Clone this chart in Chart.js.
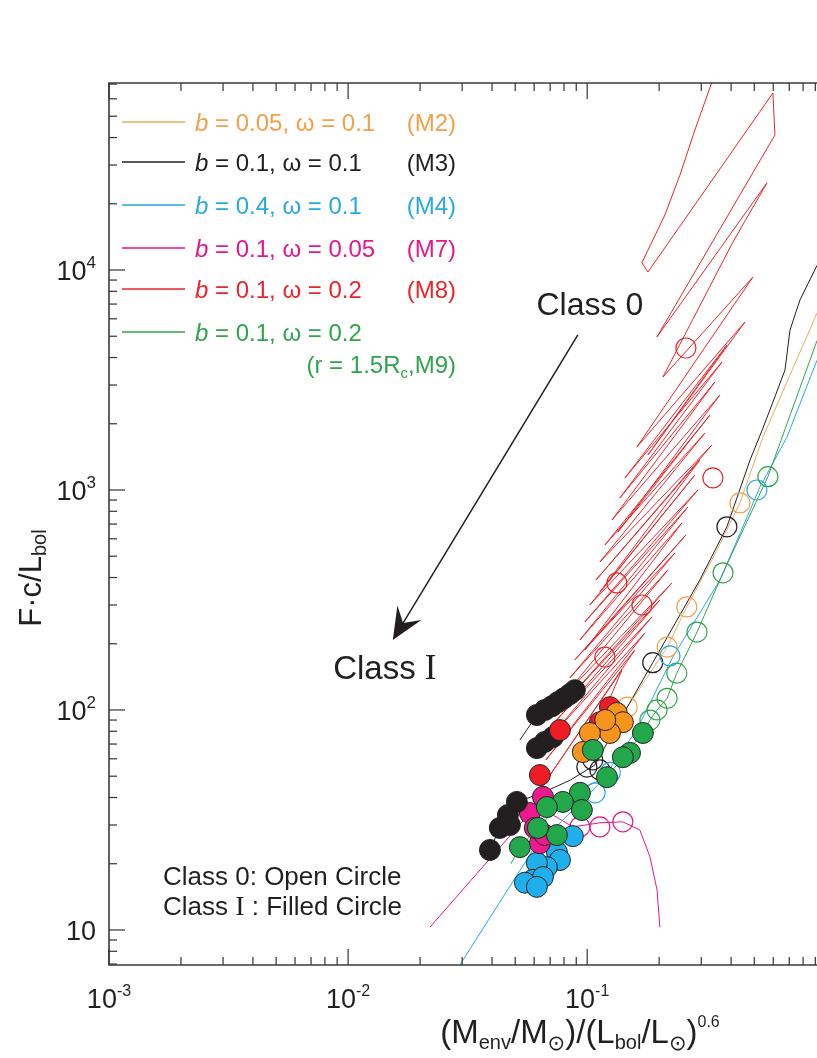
<!DOCTYPE html>
<html>
<head>
<meta charset="utf-8">
<script src="https://cdn.jsdelivr.net/npm/chart.js@4.4.1/dist/chart.umd.min.js"></script>
<style>
  html, body { margin: 0; padding: 0; background: #fff; overflow: hidden; }
  canvas { display: block; }
</style>
</head>
<body>
<canvas id="chart" width="817" height="1058"></canvas>
<script>
// axis ranges and ticks
const xRange = [0.001, 0.9145];
const yRange = [6.93, 70800];
const xMajorTicks = [0.001, 0.01, 0.1];
const xMinorTicks = [0.002, 0.003, 0.004, 0.005, 0.006, 0.007, 0.008, 0.009,
                     0.02, 0.03, 0.04, 0.05, 0.06, 0.07, 0.08, 0.09,
                     0.2, 0.3, 0.4, 0.5, 0.6, 0.7, 0.8, 0.9];
const yMajorTicks = [10, 100, 1000, 10000];
const yMinorTicks = [7, 8, 9, 20, 30, 40, 50, 60, 70, 80, 90,
                     200, 300, 400, 500, 600, 700, 800, 900,
                     2000, 3000, 4000, 5000, 6000, 7000, 8000, 9000,
                     20000, 30000, 40000, 50000, 60000, 70000];
const xTickExponents = ['-3', '-2', '-1'];
const yTickExponents = ['', '2', '3', '4'];

// M2 (b=0.05, w=0.1)
const m2Line = [[0.915,6380],[0.5435,1740],[0.4355,873],[0.349,533],[0.261,294],[0.216,193],[0.147,103],[0.133,96.9],[0.119,90],[0.1026,78.6],[0.0959,64.4]];
const m2Open = [[0.4355,873],[0.261,294],[0.216,193],[0.147,103]];
const m2Filled = [[0.133,96.9],[0.141,88],[0.1245,78.6],[0.1026,78.6],[0.0959,64.4],[0.119,90]];

// M3 (b=0.1, w=0.1)
const m3Line = [[0.915,10500],[0.776,7300],[0.705,5330],[0.672,3510],[0.581,2310],[0.538,1860],[0.480,1370],[0.384,680],[0.296,390],[0.188,164],[0.137,90],[0.1077,56.2],[0.085,48],[0.065,42],[0.0508,38.2],[0.0466,33.3],[0.0431,29.1],[0.0392,23.1]];
const m3Branch = [[0.0523,73],[0.0616,94.9],[0.0888,123]];
const m3Open = [[0.384,680],[0.188,164],[0.1056,59.3],[0.113,53.4],[0.0997,55]];
const m3Filled = [[0.0616,94.9],[0.0665,100],[0.0712,104],[0.0754,108.6],[0.0799,113],[0.0846,118],[0.0888,123],
                  [0.0616,67.1],[0.0665,71.6],[0.0719,75.3],
                  [0.0392,23.1],[0.0431,29.1],[0.0475,30],[0.0466,33.3],[0.0508,38.2]];

// M4 (b=0.4, w=0.1)
const m4Line = [[0.028,6.4],[0.0593,23.1],[0.113,46.6],[0.161,81],[0.228,174],[0.359,389],[0.528,1032],[0.685,1740],[0.915,3890]];
const m4Open = [[0.513,1000],[0.222,176],[0.125,52],[0.108,42]];
const m4Filled = [[0.0871,26.7],[0.0747,22.6],[0.0769,20.8],[0.0678,19.3],[0.0616,20.2],[0.0593,16.9],[0.0653,17.4],[0.0549,16.4],[0.0616,15.7]];

// M7 (b=0.1, w=0.05)
const m7Line = [[0.022,10.3],[0.0576,34],[0.0653,40.3],[0.072,33.3],[0.0871,29.4],[0.113,30.7],[0.141,31],[0.166,28.5],[0.183,21.5],[0.196,15.2],[0.2014,10.3]];
const m7Open = [[0.0932,29.4],[0.113,29.4],[0.141,31]];
const m7Filled = [[0.0653,40.3],[0.0576,34],[0.0634,24.8],[0.0604,29.1],[0.0665,27]];

// M8 (b=0.1, w=0.2): big loop, then narrow hairpins down to Class I
const m8Line = [[0.3324,71500],[0.2822,43300],[0.2443,27000],[0.2114,17800],[0.1795,12300],[0.1694,10800],[0.1795,9790],
                [0.598,63750],[0.610,41100],[0.1957,4960],[0.565,24900],[0.407,13400],[0.2073,3260],[0.4936,9290],
                [0.1614,1569],[0.4569,5800],[0.1795,1443],[0.3841,4562],[0.1438,1134],[0.3663,3818],
                [0.1370,919.5],[0.3423,3097],[0.1269,730.5],[0.3590,2703],[0.1344,644.5],[0.3262,2192],
                [0.1186,562.3],[0.3108,1816],[0.1130,470.7],[0.3324,1602],[0.1088,389.8],[0.2961,1369],
                [0.1130,343.9],[0.2822,1170],[0.1026,300.1],[0.2905,1000],[0.0978,251.2],[0.2638,837],
                [0.0932,208.1],[0.2490,707.9],[0.0978,187.4],[0.2588,624.5],[0.0888,169],[0.2328,517.1],
                [0.0846,139.8],[0.2177,433],[0.0807,117],[0.2262,377.9],[0.0769,102.1],[0.2014,316.2],
                [0.0733,88.2],[0.1865,264.7],[0.0698,74.6],[0.1743,223.9],[0.0672,59.3],[0.1583,187.4],
                [0.0634,43.3],[0.1397,152],[0.113,88]];
const m8Open = [[0.2588,4420],[0.3356,1135],[0.1331,378],[0.1694,300],[0.1186,174]];
const m8Filled = [[0.1245,103],[0.113,88],[0.0769,81],[0.0634,50.6]];

// M9 (b=0.1, w=0.2, r=1.5Rc)
const m9Line = [[0.048,20],[0.0523,23.8],[0.0622,29.1],[0.0791,38.2],[0.095,44],[0.121,49.5],[0.141,61],[0.171,78.6],[0.183,90],[0.196,100],[0.216,113],[0.237,147],[0.288,226],[0.370,420],[0.570,1150],[0.915,4780]];
const m9Open = [[0.570,1150],[0.370,420],[0.288,226],[0.237,147],[0.216,113],[0.196,100],[0.183,90]];
const m9Filled = [[0.171,78.6],[0.151,63.8],[0.141,61],[0.121,49.5],[0.1056,65.8],[0.0932,42],[0.095,35.1],[0.0791,38.2],[0.0678,36.2],[0.0747,27],[0.0622,29.1],[0.0523,23.8]];

// legend
const legendLabels = [['0.05', '0.1'], ['0.1', '0.1'], ['0.4', '0.1'], ['0.1', '0.05'], ['0.1', '0.2'], ['0.1', '0.2']];
const legendTags = ['(M2)', '(M3)', '(M4)', '(M7)', '(M8)', ''];
const legendNote = '(r = 1.5R';

// annotations (data coordinates)
const arrowFrom = [0.0914, 5070];
const arrowTo = [0.01538, 208];
const class0Pos = [0.1026, 7080];
const class1Pos = [0.01424, 157];

const colors = {
  m2: '#f4a04a', m2line: '#e9ab62', m2fill: '#f7941d',
  m3: '#231f20',
  m4: '#29a9e0', m4fill: '#1fb0ec',
  m7: '#e3198a', m7fill: '#ec1a8c',
  m8: '#e8262b', m8fill: '#ee1c25',
  m9: '#2fa54c', m9fill: '#22a84a'
};

const pts = arr => arr.map(p => ({ x: p[0], y: p[1] }));

function lineSet(data, color, order) {
  return { data: pts(data), showLine: true, borderColor: color, borderWidth: 1, pointRadius: 0, order: order };
}
function openSet(data, color) {
  return { data: pts(data), showLine: false, pointRadius: 10, pointBorderWidth: 1.2,
           pointBorderColor: color, pointBackgroundColor: 'rgba(0,0,0,0)', order: 20 };
}
function filledSet(data, color, order) {
  return { data: pts(data), showLine: false, pointRadius: 10.5, pointBorderWidth: 1,
           pointBorderColor: '#222', pointBackgroundColor: color, order: order };
}

const serif = '"Liberation Serif", "DejaVu Serif", serif';
const sans = '"Liberation Sans", Arial, Helvetica, sans-serif';

function drawParts(ctx, parts, x, y, align) {
  let w = 0;
  parts.forEach(p => { ctx.font = p[1]; w += ctx.measureText(p[0]).width; });
  let cx = align === 'center' ? x - w / 2 : (align === 'right' ? x - w : x);
  parts.forEach(p => {
    ctx.font = p[1];
    ctx.fillText(p[0], cx, y + (p[2] || 0));
    cx += ctx.measureText(p[0]).width;
  });
}

const decor = {
  id: 'decor',
  afterDatasetsDraw(chart) {
    const { ctx, chartArea: a, scales: { x, y } } = chart;
    ctx.save();
    ctx.textBaseline = 'alphabetic';
    ctx.textAlign = 'left';

    // arrow Class 0 -> Class I
    const x0 = x.getPixelForValue(arrowFrom[0]), y0 = y.getPixelForValue(arrowFrom[1]);
    const x1 = x.getPixelForValue(arrowTo[0]), y1 = y.getPixelForValue(arrowTo[1]);
    const len = Math.hypot(x1 - x0, y1 - y0);
    const ux = (x1 - x0) / len, uy = (y1 - y0) / len;
    const nx = -uy, ny = ux;
    const L = 32, W = 14;
    ctx.strokeStyle = '#231f20';
    ctx.lineWidth = 1.5;
    ctx.beginPath();
    ctx.moveTo(x0, y0);
    ctx.lineTo(x1 - ux * 18, y1 - uy * 18);
    ctx.stroke();
    ctx.fillStyle = '#231f20';
    ctx.beginPath();
    ctx.moveTo(x1, y1);
    ctx.lineTo(x1 - ux * L + nx * W, y1 - uy * L + ny * W);
    ctx.lineTo(x1 - ux * L * 0.62, y1 - uy * L * 0.62);
    ctx.lineTo(x1 - ux * L - nx * W, y1 - uy * L - ny * W);
    ctx.closePath();
    ctx.fill();

    // Class labels
    ctx.fillStyle = '#231f20';
    drawParts(ctx, [['Class 0', '32px ' + sans]], x.getPixelForValue(class0Pos[0]), y.getPixelForValue(class0Pos[1]) + 12, 'center');
    drawParts(ctx, [['Class ', '33px ' + sans], ['I', '35px ' + serif]], x.getPixelForValue(class1Pos[0]), y.getPixelForValue(class1Pos[1]) + 12, 'center');

    // notes bottom-left
    drawParts(ctx, [['Class 0: Open Circle', '26px ' + sans]], a.left + 54, a.bottom - 80, 'left');
    drawParts(ctx, [['Class ', '26px ' + sans], ['I', '28px ' + serif], [' : Filled Circle', '26px ' + sans]], a.left + 54, a.bottom - 50, 'left');

    // legend
    const legColors = [colors.m2, colors.m3, colors.m4, colors.m7, colors.m8, colors.m9];
    const legLineColors = [colors.m2line, colors.m3, colors.m4, colors.m7, colors.m8, colors.m9];
    const legY = [122, 162, 205, 248, 289, 332];
    const f = '24px ' + sans, fi = 'italic 24px ' + sans;
    legendLabels.forEach((lab, i) => {
      const ly = legY[i];
      ctx.strokeStyle = legLineColors[i];
      ctx.lineWidth = 1.3;
      ctx.beginPath();
      ctx.moveTo(a.left + 13, ly);
      ctx.lineTo(a.left + 76, ly);
      ctx.stroke();
      ctx.fillStyle = legColors[i];
      drawParts(ctx, [['b', fi], [' = ' + lab[0] + ', \u03c9 = ' + lab[1], f]], a.left + 86, ly + 9, 'left');
      if (legendTags[i]) drawParts(ctx, [[legendTags[i], f]], a.left + 347, ly + 9, 'right');
    });
    ctx.fillStyle = colors.m9;
    drawParts(ctx, [[legendNote, f], ['c', '15px ' + sans, 5], [',M9)', f]], a.left + 347, 373, 'right');

    // axes frame (left, bottom, top)
    ctx.strokeStyle = '#3c3c3c';
    ctx.lineWidth = 1.6;
    ctx.beginPath();
    ctx.moveTo(a.right, a.top);
    ctx.lineTo(a.left, a.top);
    ctx.lineTo(a.left, a.bottom);
    ctx.lineTo(a.right, a.bottom);
    ctx.stroke();

    // ticks, pointing inward
    ctx.lineWidth = 1.2;
    ctx.strokeStyle = '#333';
    const seg = (ax, ay, bx, by) => { ctx.beginPath(); ctx.moveTo(ax, ay); ctx.lineTo(bx, by); ctx.stroke(); };
    xMajorTicks.forEach(v => { const p = x.getPixelForValue(v); seg(p, a.bottom, p, a.bottom - 16); seg(p, a.top, p, a.top + 16); });
    xMinorTicks.forEach(v => { const p = x.getPixelForValue(v); seg(p, a.bottom, p, a.bottom - 8); seg(p, a.top, p, a.top + 8); });
    yMajorTicks.forEach(v => { const p = y.getPixelForValue(v); seg(a.left, p, a.left + 16, p); });
    yMinorTicks.forEach(v => { const p = y.getPixelForValue(v); seg(a.left, p, a.left + 8, p); });

    // tick labels
    ctx.fillStyle = '#231f20';
    xMajorTicks.forEach((v, i) => {
      drawParts(ctx, [['10', '27px ' + sans], [xTickExponents[i], '16px ' + sans, -12]], x.getPixelForValue(v), a.bottom + 43, 'center');
    });
    yMajorTicks.forEach((v, i) => {
      const parts = [['10', '27px ' + sans]];
      if (yTickExponents[i]) parts.push([yTickExponents[i], '17px ' + sans, -12]);
      drawParts(ctx, parts, a.left - 13, y.getPixelForValue(v) + 10, 'right');
    });

    // axis titles
    const big = '33px ' + sans, sub = '20px ' + sans, sun = '21px "DejaVu Sans", sans-serif';
    drawParts(ctx, [['(M', big], ['env', sub, 6], ['/M', big], ['\u2299', sun, 7], [')/(L', big], ['bol', sub, 6],
                    ['/L', big], ['\u2299', sun, 7], [')', big], ['0.6', '16px ' + sans, -16]], 580, 1043, 'center');
    ctx.translate(41, 578);
    ctx.rotate(-Math.PI / 2);
    drawParts(ctx, [['F\u00b7c/L', '31px ' + sans], ['bol', '20px ' + sans, 5]], 0, 0, 'center');
    ctx.restore();
  }
};

new Chart(document.getElementById('chart'), {
  type: 'scatter',
  data: {
    datasets: [
      lineSet(m8Line, colors.m8, 30),
      lineSet(m4Line, colors.m4, 29),
      lineSet(m9Line, colors.m9, 28),
      lineSet(m7Line, colors.m7, 27),
      lineSet(m2Line, colors.m2line, 26),
      lineSet(m3Line, colors.m3, 25),
      lineSet(m3Branch, colors.m3, 25),
      openSet(m8Open, colors.m8),
      openSet(m4Open, colors.m4),
      openSet(m9Open, colors.m9),
      openSet(m7Open, colors.m7),
      openSet(m2Open, colors.m2),
      openSet(m3Open, colors.m3),
      filledSet(m4Filled, colors.m4fill, 7),
      filledSet(m7Filled, colors.m7fill, 6),
      filledSet(m3Filled, colors.m3, 5),
      filledSet(m8Filled, colors.m8fill, 4),
      filledSet(m2Filled, colors.m2fill, 3),
      filledSet(m9Filled, colors.m9fill, 2)
    ]
  },
  options: {
    responsive: false,
    animation: false,
    devicePixelRatio: 1,
    layout: { autoPadding: false, padding: { left: 109, right: 0, top: 83, bottom: 93 } },
    plugins: { legend: { display: false }, tooltip: { enabled: false } },
    scales: {
      x: { type: 'logarithmic', min: xRange[0], max: xRange[1], display: false },
      y: { type: 'logarithmic', min: yRange[0], max: yRange[1], display: false }
    }
  },
  plugins: [decor]
});
</script>
</body>
</html>
